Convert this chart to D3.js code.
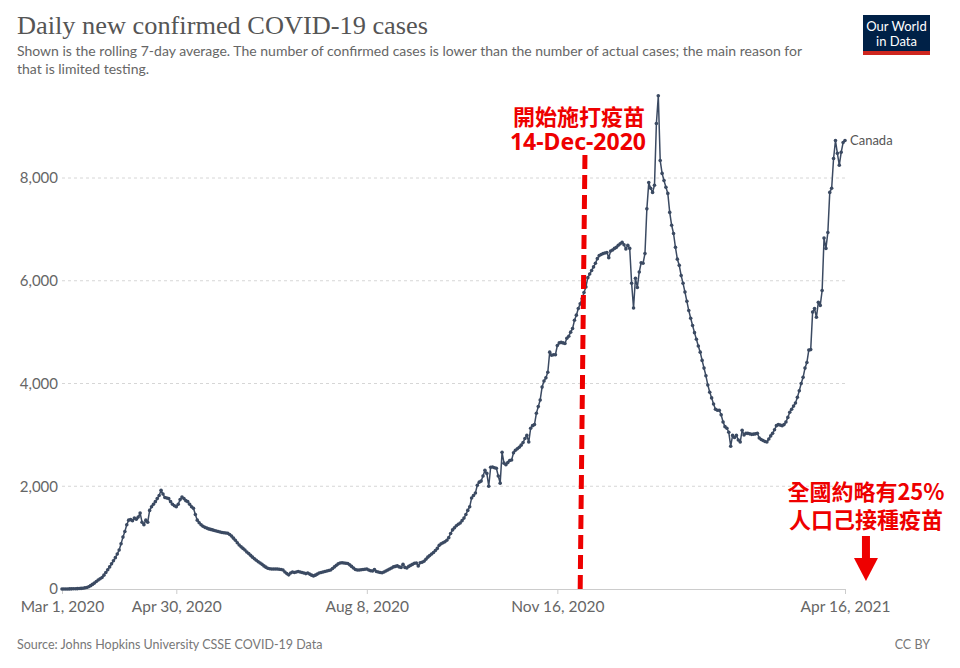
<!DOCTYPE html>
<html>
<head>
<meta charset="utf-8">
<script src="https://cdn.jsdelivr.net/npm/d3@7/dist/d3.min.js"></script>
<style>
  html, body { margin: 0; padding: 0; background: #fff; }
  svg { display: block; }
</style>
</head>
<body>
<svg id="chart" width="960" height="668"></svg>
<script>
// ---------------- DATA ----------------
const seriesName = "Canada";
const startDate = "2020-03-01";
// 7-day rolling average of daily new confirmed cases, one value per day from startDate
const values = [
  0,0,1,1,2,3,4,5,7,9,12,16,22,
  30,45,65,90,115,145,175,200,225,270,320,375,430,
  490,550,610,680,760,880,1010,1120,1250,1340,
  1350,1330,1380,1360,1400,1480,1300,1250,1340,1300,
  1530,1600,1650,1700,1760,1820,1920,1850,1780,1770,
  1760,1700,1650,1620,1600,1650,1740,1790,1760,1720,
  1700,1650,1600,1570,1450,1340,1290,1250,1220,1200,
  1185,1170,1160,1150,1140,1130,1120,1110,1100,1095,
  1090,1085,1060,1030,990,950,900,855,820,790,
  760,720,690,655,620,590,560,530,505,480,
  450,425,405,395,390,390,390,390,385,380,
  370,330,300,275,310,330,320,330,340,330,
  320,310,300,310,290,270,255,270,290,310,
  320,330,340,350,360,370,400,430,460,490,
  505,510,505,500,495,470,440,410,380,370,
  370,375,380,385,390,370,355,350,380,340,
  330,320,315,330,350,370,390,410,430,440,
  450,430,420,480,420,410,440,460,480,500,
  505,450,510,520,540,580,620,650,680,710,
  750,790,850,880,900,920,950,1000,1080,1150,
  1190,1230,1260,1285,1330,1380,1450,1530,1600,1770,
  1820,1870,2020,2080,2100,2200,2310,2250,2000,2370,
  2375,2360,2350,2200,2060,2660,2450,2420,2460,2500,
  2510,2650,2700,2730,2760,2800,2850,2930,2990,2860,
  3130,3180,3200,3420,3550,3680,3930,4050,4110,4220,
  4610,4550,4560,4560,4740,4790,4800,4790,4780,4880,
  4920,5000,5070,5230,5330,5460,5550,5650,5770,5880,
  6060,6130,6200,6270,6340,6430,6490,6510,6530,6540,
  6550,6450,6580,6600,6630,6650,6690,6720,6750,6700,
  6620,6690,6630,5950,5470,6050,5870,6170,6350,6340,
  6530,7400,7910,7800,7720,7860,9060,9600,8340,8090,
  7950,7820,7700,7330,7080,6920,6650,6420,6300,6100,
  5950,5780,5600,5420,5270,5130,4990,4860,4730,4610,
  4450,4300,4150,3970,3830,3720,3600,3500,3480,3480,
  3390,3250,3160,3130,3050,2780,2990,2950,2990,2900,
  2860,3090,3000,3030,3030,3020,3010,3014,3020,3030,
  2940,2910,2890,2870,2860,2920,2980,3030,3100,3180,
  3200,3190,3180,3200,3250,3340,3440,3500,3560,3620,
  3730,3860,4000,4120,4300,4410,4650,4660,5390,5460,
  5290,5580,5520,5810,6830,6630,6940,7720,7800,8380,
  8730,8480,8250,8500,8690,8730
];
const xTickDates = ["2020-03-01","2020-04-30","2020-08-08","2020-11-16","2021-04-16"];
const xTickLabels = ["Mar 1, 2020","Apr 30, 2020","Aug 8, 2020","Nov 16, 2020","Apr 16, 2021"];
const yTickValues = [0, 2000, 4000, 6000, 8000];
const yTickLabels = ["0","2,000","4,000","6,000","8,000"];

const titleText = "Daily new confirmed COVID-19 cases";
const subtitleLines = [
  "Shown is the rolling 7-day average. The number of confirmed cases is lower than the number of actual cases; the main reason for",
  "that is limited testing."
];
const sourceText = "Source: Johns Hopkins University CSSE COVID-19 Data";
const licenseText = "CC BY";
const vaccineLabel = ["開始施打疫苗", "14-Dec-2020"];
const vaccineLineDates = ["2020-11-30T12:00", "2020-11-28T00:00"]; // top, bottom (as placed in picture)
const noteLabel = ["全國約略有25%", "人口己接種疫苗"];
const noteDate = "2021-04-27";

// ---------------- CHART ----------------
const parse = d3.isoParse;
const start = parse(startDate);
const data = values.map((v, i) => ({ date: d3.timeDay.offset(start, i), value: v }));

const svg = d3.select("#chart");
const left = 62, right = 845, top0 = 178, bottom = 589;

const x = d3.scaleTime()
  .domain([parse(xTickDates[0]), parse(xTickDates[xTickDates.length - 1])])
  .range([left, right]);
const y = d3.scaleLinear().domain([0, 8000]).range([bottom, top0]);

const sans = "Lato, 'Noto Sans', sans-serif";

// Title & subtitle
svg.append("text")
  .attr("x", 17).attr("y", 34)
  .attr("font-family", "'Liberation Serif', 'DejaVu Serif', serif")
  .attr("font-size", 25)
  .attr("fill", "#555")
  .attr("textLength", 411)
  .attr("lengthAdjust", "spacingAndGlyphs")
  .text(titleText);

svg.selectAll("text.sub").data(subtitleLines).enter().append("text")
  .attr("class", "sub")
  .attr("x", 17).attr("y", (d, i) => 56 + i * 18)
  .attr("font-family", sans).attr("font-size", 14)
  .attr("fill", "#666")
  .text(d => d);

// Logo
const logo = svg.append("g");
logo.append("rect").attr("x", 863).attr("y", 15).attr("width", 67).attr("height", 40).attr("fill", "#002147");
logo.append("rect").attr("x", 863).attr("y", 51).attr("width", 67).attr("height", 4).attr("fill", "#ce261e");
logo.append("text").attr("x", 896.5).attr("y", 31).attr("text-anchor", "middle")
  .attr("font-family", sans).attr("font-size", 13).attr("fill", "#fff").text("Our World");
logo.append("text").attr("x", 896.5).attr("y", 46).attr("text-anchor", "middle")
  .attr("font-family", sans).attr("font-size", 13).attr("fill", "#fff").text("in Data");

// Gridlines
const gridG = svg.append("g");
gridG.selectAll("line").data(yTickValues.filter(v => v > 0)).enter().append("line")
  .attr("x1", left).attr("x2", right)
  .attr("y1", d => y(d)).attr("y2", d => y(d))
  .attr("stroke", "#d6d6d6").attr("stroke-dasharray", "3,3").attr("stroke-width", 1);

// Y labels
svg.append("g").selectAll("text").data(yTickValues).enter().append("text")
  .attr("x", 58).attr("y", d => y(d)).attr("dy", "0.35em")
  .attr("text-anchor", "end")
  .attr("font-family", sans).attr("font-size", 15).attr("fill", "#666")
  .text((d, i) => yTickLabels[i]);

// X axis
const xAxis = d3.axisBottom(x)
  .tickValues(xTickDates.map(parse))
  .tickFormat((d, i) => xTickLabels[i])
  .tickSize(5)
  .tickSizeOuter(0);
const xg = svg.append("g").attr("transform", `translate(0,${bottom})`).call(xAxis);
xg.select(".domain").attr("stroke", "#ccc");
xg.selectAll(".tick line").attr("stroke", "#ccc");
xg.selectAll(".tick text")
  .attr("font-family", sans).attr("font-size", 15.5).attr("fill", "#666").attr("dy", "0.95em");

// Line
const color = "#3b4a62";
const line = d3.line().x(d => x(d.date)).y(d => y(d.value));
svg.append("path").datum(data)
  .attr("d", line).attr("fill", "none")
  .attr("stroke", color).attr("stroke-width", 1.5).attr("stroke-linejoin", "round");
svg.append("g").selectAll("circle").data(data).enter().append("circle")
  .attr("cx", d => x(d.date)).attr("cy", d => y(d.value)).attr("r", 1.8)
  .attr("fill", color);

// Series label
const last = data[data.length - 1];
svg.append("text")
  .attr("x", x(last.date) + 5).attr("y", y(last.value)).attr("dy", "0.35em")
  .attr("font-family", sans).attr("font-size", 13).attr("fill", "#555")
  .text(seriesName);

// Footer
svg.append("text").attr("x", 17).attr("y", 649)
  .attr("font-family", sans).attr("font-size", 12.5).attr("fill", "#777").text(sourceText);
svg.append("text").attr("x", 930).attr("y", 649).attr("text-anchor", "end")
  .attr("font-family", sans).attr("font-size", 12.5).attr("fill", "#777").text(licenseText);

// Red annotations
const red = "#ee0000";
const cjk = "'Noto Sans CJK TC', 'Noto Sans CJK SC', sans-serif";
svg.append("line")
  .attr("x1", x(parse(vaccineLineDates[0]))).attr("y1", 155)
  .attr("x2", x(parse(vaccineLineDates[1]))).attr("y2", y(0))
  .attr("stroke", red).attr("stroke-width", 5).attr("stroke-dasharray", "14,6");
const vx = x(parse(vaccineLineDates[0])) - 6;
svg.append("text").attr("x", vx).attr("y", 125).attr("text-anchor", "middle")
  .attr("font-family", cjk).attr("font-weight", 700).attr("font-size", 22).attr("fill", red)
  .text(vaccineLabel[0]);
svg.append("text").attr("x", vx - 1).attr("y", 150).attr("text-anchor", "middle")
  .attr("font-family", "'Noto Sans', 'Open Sans', sans-serif").attr("font-weight", 700).attr("font-size", 23).attr("fill", red)
  .text(vaccineLabel[1]);

const nx = x(parse(noteDate));
svg.append("text").attr("x", nx).attr("y", 500).attr("text-anchor", "middle")
  .attr("font-family", cjk).attr("font-weight", 700).attr("font-size", 22).attr("fill", red)
  .text(noteLabel[0]);
svg.append("text").attr("x", nx).attr("y", 528).attr("text-anchor", "middle")
  .attr("font-family", cjk).attr("font-weight", 700).attr("font-size", 22).attr("fill", red)
  .text(noteLabel[1]);
// arrow
svg.append("rect").attr("x", nx - 4).attr("y", 536).attr("width", 8).attr("height", 24).attr("fill", red);
svg.append("path")
  .attr("d", `M${nx - 12},558 L${nx + 12},558 L${nx},581 Z`).attr("fill", red);
</script>
</body>
</html>
